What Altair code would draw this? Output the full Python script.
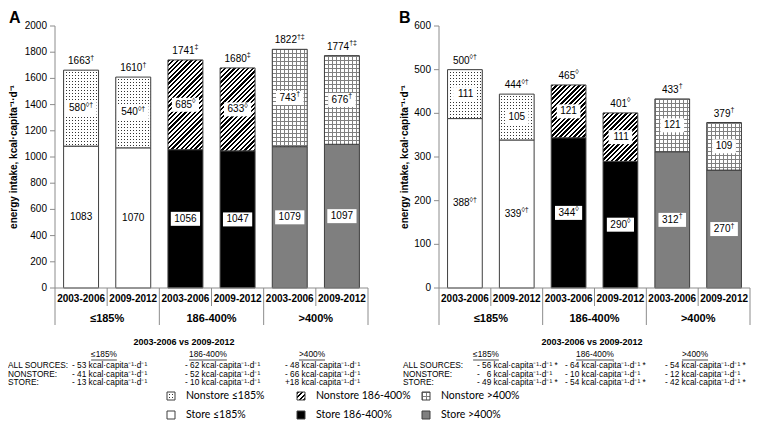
import altair as alt
import pandas as pd

# ---------------- data ----------------
periods = ["2003-2006", "2009-2012"]
groups = ["≤185%", "186-400%", ">400%"]

a_store = [1083, 1070, 1056, 1047, 1079, 1097]
a_nonstore = [580, 540, 685, 633, 743, 676]
a_total = [1663, 1610, 1741, 1680, 1822, 1774]
a_total_mark = ["†", "†", "‡", "‡", "†‡", "†‡"]
a_nonstore_mark = ["◊†", "◊†", "◊", "◊", "†", "†"]
a_store_mark = ["", "", "", "", "", ""]
a_yticks = [0, 200, 400, 600, 800, 1000, 1200, 1400, 1600, 1800, 2000]

b_store = [388, 339, 344, 290, 312, 270]
b_nonstore = [111, 105, 121, 111, 121, 109]
b_total = [500, 444, 465, 401, 433, 379]
b_total_mark = ["◊†", "◊†", "◊", "◊", "†", "†"]
b_nonstore_mark = ["", "", "", "", "", ""]
b_store_mark = ["◊†", "◊†", "◊", "◊", "†", "†"]
b_yticks = [0, 100, 200, 300, 400, 500, 600]

y_title = "energy intake, kcal·capita⁻¹·d⁻¹"
table_header = "2003-2006 vs 2009-2012"
table_rows = ["ALL SOURCES:", "NONSTORE:", "STORE:"]
unit = " kcal·capita⁻¹·d⁻¹"
a_table = [["- 53" + unit, "- 62" + unit, "- 48" + unit],
           ["- 41" + unit, "- 52" + unit, "- 66" + unit],
           ["- 13" + unit, "- 10" + unit, "+18" + unit]]
b_table = [["- 56" + unit + " *", "- 64" + unit + " *", "- 54" + unit + " *"],
           ["- \u20076" + unit, "- 10" + unit, "- 12" + unit],
           ["- 49" + unit + " *", "- 54" + unit + " *", "- 42" + unit + " *"]]
legend_labels = [["Nonstore ≤185%", "Nonstore 186-400%", "Nonstore >400%"],
                 ["Store ≤185%", "Store 186-400%", "Store >400%"]]

# ---------------- layout / style ----------------
W, H = 743, 415
Y_TOP, Y_BASE = 18, 280
LAYOUT = {"A": {"x0": 47, "x1": 360, "ymax": 2000, "letter_x": 0, "title_x": 6},
          "B": {"x0": 431, "x1": 742, "ymax": 600, "letter_x": 390, "title_x": 397}}
BAR_FRAC = 0.67
FONT = "Liberation Sans, Arial, sans-serif"
LEG_FONT = "Lato, sans-serif"
EDGE = "#3f3f3f"
AXC = "#8c8c8c"
WHITE = "#ffffff"
CLEAR = "rgba(255,255,255,0)"
STORE_FILL = {"≤185%": "#ffffff", "186-400%": "#000000", ">400%": "#7f7f7f"}
PATTERN = {"≤185%": "dots", "186-400%": "hatch", ">400%": "grid"}
TABLE_POS = {
    "A": {"hx": 176, "cols_head": [96, 200, 304], "row_x": 0, "cols_val": [64, 177, 277]},
    "B": {"hx": 584, "cols_head": [478, 587, 687], "row_x": 395, "cols_val": [469, 557, 657]},
}
T_FS = 8.3
T_HEAD_Y, T_COLS_Y, T_ROWS_Y = 334, 347, [358, 366.5, 375]
LEG_X = [159, 289, 414]
LEG_Y = [388, 407]
LEG_FS = 10.5
SW = 8

CW = {"-": 0.333, "%": 0.889, "≤": 0.549, ">": 0.584, "◊": 0.494, " ": 0.278}


def text_w(s, size):
    return sum(CW.get(c, 0.556) for c in s) * size


def r(v):
    return round(v, 5)


def stripes(length, period, line, color, bg):
    stops = [{"offset": 0, "color": bg}]
    k = 0
    while k * period < length:
        a = k * period / length
        b = min((k * period + line) / length, 1)
        stops += [{"offset": r(a), "color": bg}, {"offset": r(a), "color": color},
                  {"offset": r(b), "color": color}, {"offset": r(b), "color": bg}]
        k += 1
    stops.append({"offset": 1, "color": bg})
    return stops


def lines_grad(axis, length, period, line, color, bg):
    g = {"gradient": "linear", "x1": 0, "y1": 0,
         "stops": stripes(length, period, line, color, bg)}
    if axis == "h":
        g.update(x2=0, y2=1)
    else:
        g.update(x2=1, y2=0)
    return g


def diag_grad(w, h, period, line, color, bg):
    denom = w * w + h * h
    smax = w + h
    c = max(1.0, smax * w / denom)
    stops = [{"offset": 0, "color": bg}]
    k = 0
    while k * period < smax:
        a = k * period * w / denom / c
        b = min((k * period + line) * w / denom / c, 1)
        if a >= 1:
            break
        stops += [{"offset": r(a), "color": bg}, {"offset": r(a), "color": color},
                  {"offset": r(b), "color": color}, {"offset": r(b), "color": bg}]
        k += 1
    stops.append({"offset": 1, "color": bg})
    return {"gradient": "linear", "x1": 0, "y1": 0, "x2": r(c), "y2": r(c * h / w), "stops": stops}


def pattern_fills(kind, w, h):
    if kind == "dots":
        return ["#333333", lines_grad("h", h, 3, 2.1, WHITE, CLEAR), lines_grad("v", w, 3, 2.1, WHITE, CLEAR)]
    if kind == "hatch":
        return [diag_grad(w, h, 4.6, 2.3, "#000000", WHITE)]
    return [lines_grad("v", w, 4, 1, "#808080", WHITE), lines_grad("h", h, 4, 1, "#808080", CLEAR)]


def panel(key, store, nonstore, total, tmark, nmark, smark, yticks):
    L = LAYOUT[key]
    step = (L["x1"] - L["x0"]) / 6
    ppu = (Y_BASE - Y_TOP) / L["ymax"]
    bw = BAR_FRAC * step
    xs = alt.Scale(domain=[0, 6], range=[L["x0"], L["x1"]], nice=False, zero=False)
    ys = alt.Scale(domain=[0, L["ymax"]], range=[Y_BASE, Y_TOP], nice=False)

    rows, labels = [], []
    for i in range(6):
        g = groups[i // 2]
        xc = i + 0.5
        rows.append(dict(i=i, group=g, period=periods[i % 2], base=0, store=store[i],
                         nonstore=nonstore[i], total=total[i], xc=xc,
                         xl=xc - BAR_FRAC / 2, xr=xc + BAR_FRAC / 2, fill=STORE_FILL[g]))
        for kind, yv, val, mk in [("total", total[i], total[i], tmark[i]),
                                  ("non", (store[i] + total[i]) / 2, nonstore[i], nmark[i]),
                                  ("store", store[i] / 2, store[i], smark[i])]:
            main = str(val)
            wm, wsup = text_w(main, 10), text_w(mk, 7)
            hw = (wm + wsup) / 2 + 3.5
            labels.append(dict(kind=kind, y=yv, main=main, sup=mk,
                               ax=xc + (wm - wsup) / 2 / step,
                               bx0=xc - hw / step, bx1=xc + hw / step,
                               by0=yv - 7 / ppu, by1=yv + 7 / ppu))
    df = pd.DataFrame(rows)
    lab = pd.DataFrame(labels)
    ticks = pd.DataFrame({"v": yticks, "t": [str(v) for v in yticks]})

    X = lambda f: alt.X(f, type="quantitative", scale=xs, axis=None)
    Y = lambda f: alt.Y(f, type="quantitative", scale=ys, axis=None)

    layers = []
    # y axis built from the y scale
    layers.append(alt.Chart(pd.DataFrame({"a": [0], "b": [L["ymax"]]})).mark_rule(color=AXC).encode(
        x=alt.value(L["x0"]), y=Y("a"), y2="b:Q"))
    layers.append(alt.Chart(ticks).mark_rule(color=AXC).encode(
        x=alt.value(L["x0"] - 5), x2=alt.value(L["x0"]), y=Y("v")))
    layers.append(alt.Chart(ticks).mark_text(align="right", baseline="middle", font=FONT,
                                             fontSize=10, color="black").encode(
        x=alt.value(L["x0"] - 8), y=Y("v"), text="t:N"))
    layers.append(alt.Chart(pd.DataFrame({"t": [y_title]})).mark_text(
        angle=270, align="center", baseline="middle", font=FONT, fontSize=10,
        fontWeight="bold", color="black").encode(
        x=alt.value(L["title_x"]), y=alt.value((Y_TOP + Y_BASE) / 2), text="t:N"))

    layers.append(alt.Chart(df).mark_rect(stroke=EDGE, strokeWidth=1).encode(
        x=X("xl"), x2="xr", y=Y("base"), y2="store:Q",
        fill=alt.Fill("fill:N", scale=None)))
    for i in range(6):
        g = groups[i // 2]
        h = nonstore[i] * ppu
        for fill in pattern_fills(PATTERN[g], bw, h):
            layers.append(alt.Chart(df).transform_filter(alt.datum.i == i)
                          .mark_rect(fill=fill, strokeWidth=0)
                          .encode(x=X("xl"), x2="xr", y=Y("store"), y2="total:Q"))
    layers.append(alt.Chart(df).mark_rect(fillOpacity=0, stroke=EDGE, strokeWidth=1).encode(
        x=X("xl"), x2="xr", y=Y("store"), y2="total:Q"))
    # white label boxes
    layers.append(alt.Chart(lab).transform_filter(alt.datum.kind != "total")
                  .mark_rect(fill=WHITE, strokeWidth=0)
                  .encode(x=X("bx0"), x2="bx1", y=Y("by0"), y2="by1:Q"))
    for kind, dy in [("total", -9), ("non", 0), ("store", 0)]:
        base = alt.Chart(lab).transform_filter(alt.datum.kind == kind)
        layers.append(base.mark_text(align="right", baseline="middle", font=FONT, fontSize=10,
                                     dy=dy, color="black")
                      .encode(x=X("ax"), y=Y("y"), text="main:N"))
        layers.append(base.mark_text(align="left", baseline="middle", font=FONT, fontSize=7,
                                     dy=dy - 3.5, color="black")
                      .encode(x=X("ax"), y=Y("y"), text="sup:N"))
    # category axis
    div = pd.DataFrame({"x": list(range(7)), "major": [k % 2 == 0 for k in range(7)]})
    layers.append(alt.Chart(pd.DataFrame({"a": [0], "b": [6]})).mark_rule(color=AXC).encode(
        x=X("a"), x2="b:Q", y=alt.value(Y_BASE)))
    layers.append(alt.Chart(div).transform_filter(~alt.datum.major).mark_rule(color=AXC).encode(
        x=X("x"), y=alt.value(Y_BASE), y2=alt.value(Y_BASE + 18)))
    layers.append(alt.Chart(div).transform_filter(alt.datum.major).mark_rule(color=AXC).encode(
        x=X("x"), y=alt.value(Y_BASE), y2=alt.value(Y_BASE + 37)))
    layers.append(alt.Chart(df).mark_text(font=FONT, fontSize=10, fontWeight="bold",
                                          baseline="middle", color="black")
                  .encode(x=X("xc"), y=alt.value(Y_BASE + 11), text="period:N"))
    gdf = pd.DataFrame({"g": groups, "xc": [2 * k + 1 for k in range(3)]})
    layers.append(alt.Chart(gdf).mark_text(font=FONT, fontSize=11, fontWeight="bold",
                                           baseline="middle", color="black")
                  .encode(x=X("xc"), y=alt.value(Y_BASE + 31), text="g:N"))
    # panel letter
    layers.append(alt.Chart(pd.DataFrame({"t": [key]})).mark_text(
        font=FONT, fontSize=16, fontWeight="bold", align="left", baseline="top", color="black")
        .encode(x=alt.value(L["letter_x"] + 1), y=alt.value(2), text="t:N"))
    return alt.layer(*layers)


def table(key, values):
    P = TABLE_POS[key]
    txt = []
    txt.append(dict(px=P["hx"], py=T_HEAD_Y, t=table_header, s="head"))
    for c, gname in enumerate(groups):
        txt.append(dict(px=P["cols_head"][c], py=T_COLS_Y, t=gname, s="col"))
    for rr, rname in enumerate(table_rows):
        txt.append(dict(px=P["row_x"], py=T_ROWS_Y[rr], t=rname, s="row"))
        for c in range(3):
            txt.append(dict(px=P["cols_val"][c], py=T_ROWS_Y[rr], t=values[rr][c], s="row"))
    tdf = pd.DataFrame(txt)
    ul = pd.DataFrame([dict(x0=P["cols_head"][c] - text_w(g, T_FS) / 2,
                            x1=P["cols_head"][c] + text_w(g, T_FS) / 2, y=T_COLS_Y + 5)
                       for c, g in enumerate(groups)])
    PX = alt.X("px:Q", scale=None)
    PY = alt.Y("py:Q", scale=None)
    return alt.layer(
        alt.Chart(tdf).transform_filter(alt.datum.s == "head").mark_text(
            font=FONT, fontSize=9, fontWeight="bold", baseline="middle", color="black")
        .encode(x=PX, y=PY, text="t:N"),
        alt.Chart(tdf).transform_filter(alt.datum.s == "col").mark_text(
            font=FONT, fontSize=T_FS, baseline="middle", color="black")
        .encode(x=PX, y=PY, text="t:N"),
        alt.Chart(tdf).transform_filter(alt.datum.s == "row").mark_text(
            font=FONT, fontSize=T_FS, baseline="middle", align="left", color="black")
        .encode(x=PX, y=PY, text="t:N"),
        alt.Chart(ul).mark_rule(color="black", strokeWidth=0.7).encode(
            x=alt.X("x0:Q", scale=None), x2="x1:Q", y=alt.Y("y:Q", scale=None)),
    )


def legend():
    layers = []
    items = []
    for rr in range(2):
        for c in range(3):
            items.append(dict(x0=LEG_X[c], x1=LEG_X[c] + SW, y0=LEG_Y[rr] - SW / 2,
                              y1=LEG_Y[rr] + SW / 2, tx=LEG_X[c] + SW + 11, ty=LEG_Y[rr],
                              t=legend_labels[rr][c], g=groups[c], row=rr))
    ldf = pd.DataFrame(items)
    enc = dict(x=alt.X("x0:Q", scale=None), x2="x1:Q", y=alt.Y("y0:Q", scale=None), y2="y1:Q")
    for c, g in enumerate(groups):
        for fill in pattern_fills(PATTERN[g], SW, SW):
            layers.append(alt.Chart(ldf).transform_filter((alt.datum.row == 0) & (alt.datum.g == g))
                          .mark_rect(fill=fill, strokeWidth=0).encode(**enc))
    layers.append(alt.Chart(ldf).transform_filter(alt.datum.row == 1)
                  .mark_rect(stroke=EDGE, strokeWidth=1)
                  .encode(fill=alt.Fill("g:N", scale=alt.Scale(domain=groups,
                          range=[STORE_FILL[g] for g in groups]), legend=None), **enc))
    layers.append(alt.Chart(ldf).transform_filter(alt.datum.row == 0)
                  .mark_rect(fillOpacity=0, stroke=EDGE, strokeWidth=1).encode(**enc))
    layers.append(alt.Chart(ldf).mark_text(font=LEG_FONT, fontSize=LEG_FS, align="left",
                                           baseline="middle", color="black")
                  .encode(x=alt.X("tx:Q", scale=None), y=alt.Y("ty:Q", scale=None), text="t:N"))
    return alt.layer(*layers)


pA = panel("A", a_store, a_nonstore, a_total, a_total_mark, a_nonstore_mark, a_store_mark, a_yticks)
pB = panel("B", b_store, b_nonstore, b_total, b_total_mark, b_nonstore_mark, b_store_mark, b_yticks)

chart = alt.layer(pA, pB, table("A", a_table), table("B", b_table), legend()).resolve_scale(
    x="independent", y="independent", fill="independent"
).properties(
    width=W, height=H, autosize=alt.AutoSizeParams(type="none"), padding=0
).configure_view(stroke=None)

chart.save("out.html", embed_options={"renderer": "svg", "actions": False})
